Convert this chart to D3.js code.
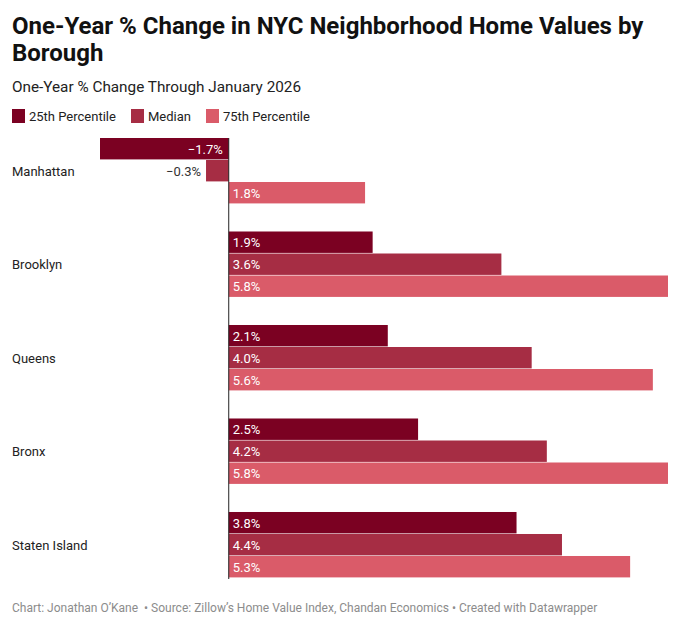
<!DOCTYPE html>
<html>
<head>
<meta charset="utf-8">
<script src="https://cdn.jsdelivr.net/npm/d3@7"></script>
<style>
  body { margin: 0; background: #fff; font-family: Roboto, sans-serif; }
</style>
</head>
<body>
<svg id="chart" width="680" height="625"></svg>
<script>
// data
var boroughs = ['Manhattan', 'Brooklyn', 'Queens', 'Bronx', 'Staten Island'];
var seriesNames = ['25th Percentile', 'Median', '75th Percentile'];
var p25 = [-1.7, 1.9, 2.1, 2.5, 3.8];
var median = [-0.3, 3.6, 4.0, 4.2, 4.4];
var p75 = [1.8, 5.8, 5.6, 5.8, 5.3];
var colors = ['#7b0122', '#a62d44', '#da5b69'];

function renderChart() {
  var svg = d3.select('#chart');
  var values = [p25, median, p75];

  var rows = [];
  boroughs.forEach(function (b, i) {
    seriesNames.forEach(function (s, j) {
      rows.push({ borough: b, series: s, idx: j, value: values[j][i] });
    });
  });

  // header
  svg.append('text')
    .attr('x', 12).attr('y', 34)
    .attr('font-size', 24).attr('font-weight', 700).attr('fill', '#111')
    .text('One-Year % Change in NYC Neighborhood Home Values by');
  svg.append('text')
    .attr('x', 12).attr('y', 61)
    .attr('font-size', 24).attr('font-weight', 700).attr('fill', '#111')
    .text('Borough');
  svg.append('text')
    .attr('x', 12).attr('y', 92)
    .attr('font-size', 15.3).attr('fill', '#222')
    .text('One-Year % Change Through January 2026');

  // legend
  var legendX = [12, 131, 206];
  var legend = svg.append('g');
  seriesNames.forEach(function (s, j) {
    legend.append('rect')
      .attr('x', legendX[j]).attr('y', 109)
      .attr('width', 13).attr('height', 14)
      .attr('fill', colors[j]);
    legend.append('text')
      .attr('x', legendX[j] + 17).attr('y', 121)
      .attr('font-size', 13).attr('fill', '#222')
      .text(s);
  });

  var x = d3.scaleLinear()
    .domain([d3.min(p25), d3.max(p75)])
    .range([100, 668]);

  var y = d3.scaleBand()
    .domain(boroughs)
    .range([138, 578])
    .paddingInner(0.294)
    .paddingOuter(0);

  var ySub = d3.scaleBand()
    .domain(seriesNames)
    .range([0, y.bandwidth()]);

  var g = svg.append('g');

  g.selectAll('.bar')
    .data(rows)
    .enter()
    .append('rect')
    .attr('class', 'bar')
    .attr('x', function (d) { return Math.min(x(0), x(d.value)); })
    .attr('y', function (d) { return y(d.borough) + ySub(d.series); })
    .attr('width', function (d) { return Math.abs(x(d.value) - x(0)); })
    .attr('height', ySub.bandwidth() - 0.6)
    .attr('fill', function (d) { return colors[d.idx]; });

  // value labels
  g.selectAll('.label')
    .data(rows)
    .enter()
    .append('text')
    .attr('class', 'label')
    .attr('font-size', 13)
    .attr('dy', '0.35em')
    .attr('y', function (d) { return y(d.borough) + ySub(d.series) + ySub.bandwidth() / 2; })
    .each(function (d) {
      var w = Math.abs(x(d.value) - x(0));
      var el = d3.select(this);
      var txt = (d.value < 0 ? '\u2212' + Math.abs(d.value).toFixed(1) : d.value.toFixed(1)) + '%';
      el.text(txt);
      if (d.value >= 0) {
        el.attr('x', x(0) + 4).attr('text-anchor', 'start').attr('fill', '#fff');
      } else if (w > 45) {
        el.attr('x', x(0) - 6).attr('text-anchor', 'end').attr('fill', '#fff');
      } else {
        el.attr('x', x(d.value) - 5).attr('text-anchor', 'end').attr('fill', '#333');
      }
    });

  // borough labels
  g.selectAll('.cat')
    .data(boroughs)
    .enter()
    .append('text')
    .attr('x', 12)
    .attr('y', function (d) { return y(d) + y.bandwidth() / 2; })
    .attr('dy', '0.35em')
    .attr('font-size', 13)
    .attr('fill', '#222')
    .text(function (d) { return d; });

  // zero line
  g.append('line')
    .attr('x1', x(0)).attr('x2', x(0))
    .attr('y1', 138).attr('y2', 579)
    .attr('stroke', '#222').attr('stroke-width', 1);

  // footer
  svg.append('text')
    .attr('x', 12).attr('y', 612)
    .attr('font-size', 12).attr('fill', '#8c8c8c')
    .text('Chart: Jonathan O\u2019Kane \u00a0\u2022 Source: Zillow\u2019s Home Value Index, Chandan Economics \u2022 Created with Datawrapper');
}

renderChart();
</script>
</body>
</html>
